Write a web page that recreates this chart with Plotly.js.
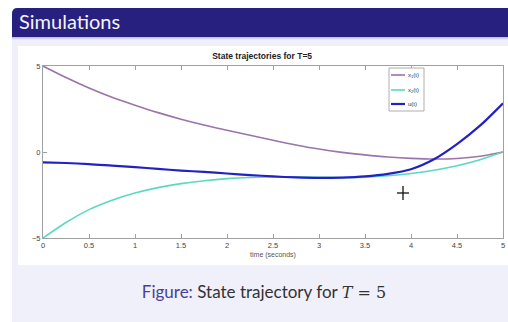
<!DOCTYPE html>
<html><head><meta charset="utf-8">
<script src="https://cdn.plot.ly/plotly-3.0.1.min.js"></script>
<style>
html,body{margin:0;padding:0;background:#fff;width:508px;height:322px;overflow:hidden;position:relative;font-family:Lato,"Open Sans",sans-serif}
#block{position:absolute;left:12px;top:40px;width:496px;height:282px;background:#eff0f9}
#head{position:absolute;left:12px;top:8px;width:496px;height:29px;background:#27207f;border-top-left-radius:5px}
#head span{position:absolute;left:7px;top:1px;color:#f4f4fb;font-size:20px;font-family:Lato,sans-serif;font-weight:400}
#sep{position:absolute;left:12px;top:37px;width:496px;height:3px;background:linear-gradient(#b9b6dc,#eff0f9)}
#fig{position:absolute;left:18px;top:46px;width:490px;height:219px;background:#fff}
#cap{position:absolute;left:0;width:528px;top:281px;text-align:center;font-size:17px;color:#333;font-family:Lato,sans-serif}
#cap .f{color:#4a3f9e}
#cap .m{font-family:"DejaVu Serif","Liberation Serif",serif;font-size:16px}
#plot{position:absolute;left:0;top:0;width:508px;height:322px}
</style></head>
<body>
<div id="block"></div><div id="head"><span>Simulations</span></div><div id="sep"></div>
<div id="fig"></div>
<div id="cap"><span class="f">Figure:</span> State trajectory for <span class="m"><i>T</i> = 5</span></div>
<div id="plot"></div>
<script>
const t  = [0,0.25,0.5,0.75,1,1.25,1.5,1.75,2,2.25,2.5,2.75,3,3.25,3.5,3.75,4,4.25,4.5,4.75,5];
const x1 = [5.0,4.33,3.72,3.18,2.72,2.29,1.91,1.57,1.26,0.97,0.68,0.41,0.17,-0.02,-0.17,-0.29,-0.37,-0.41,-0.38,-0.25,0.0];
const x2 = [-5.0,-4.1,-3.35,-2.8,-2.38,-2.07,-1.84,-1.67,-1.55,-1.48,-1.45,-1.45,-1.47,-1.48,-1.46,-1.38,-1.25,-1.06,-0.8,-0.45,0.0];
const u  = [-0.60,-0.64,-0.70,-0.79,-0.88,-0.98,-1.08,-1.16,-1.25,-1.34,-1.42,-1.48,-1.51,-1.49,-1.42,-1.27,-1.0,-0.42,0.46,1.53,2.83];
const names = ['x<sub>1</sub>(t)','x<sub>2</sub>(t)','u(t)'];
const colors = ['#9a74aa','#5cd8c2','#2222c4'];
const widths = [1.6,1.6,2.2];
const xTicks = [0,0.5,1,1.5,2,2.5,3,3.5,4,4.5,5];
const xTickText = ['0','0.5','1','1.5','2','2.5','3','3.5','4','4.5','5'];
const yTicks = [-5,0,5];

const series = [x1,x2,u];
const data = series.map((ys,i)=>({x:t,y:ys,type:'scatter',mode:'lines',line:{color:colors[i],width:widths[i],shape:'spline',smoothing:0.8},name:names[i],showlegend:false}));

const W=460,H=172;
const px=v=>v/W, py=v=>v/H;
const lgX0=px(389-43), lgX1=px(424-43), lgY0=1-py(68-66), lgY1=1-py(111-66);
const shapes=[{type:'rect',xref:'paper',yref:'paper',x0:lgX0,x1:lgX1,y0:lgY1,y1:lgY0,line:{color:'#9a9a9a',width:0.8},fillcolor:'#fff'}];
const annotations=[];
const rowY=[75,90,104];
rowY.forEach((yy,i)=>{
  const yp=1-py(yy-66);
  shapes.push({type:'line',xref:'paper',yref:'paper',x0:px(391-43),x1:px(405-43),y0:yp,y1:yp,line:{color:colors[i],width:widths[i]}});
  annotations.push({xref:'paper',yref:'paper',x:px(406-43),y:yp,text:names[i],showarrow:false,xanchor:'left',yanchor:'middle',font:{size:6,color:'#333',family:'Liberation Sans, Arial, sans-serif'}});
});
const cx=px(403-43), cy=1-py(193-66);
shapes.push({type:'line',xref:'paper',yref:'paper',x0:cx-px(6),x1:cx+px(6),y0:cy,y1:cy,line:{color:'#111',width:1.3}});
shapes.push({type:'line',xref:'paper',yref:'paper',x0:cx,x1:cx,y0:cy-py(7),y1:cy+py(7),line:{color:'#111',width:1.3}});

const axisCommon={showgrid:false,zeroline:false,showline:true,linecolor:'#a0a0a0',linewidth:1,mirror:'ticks',ticks:'inside',ticklen:4,tickcolor:'#a0a0a0',tickfont:{size:7.5,color:'#444',family:'Liberation Sans, Arial, sans-serif'}};
const layout={
  width:508,height:322,
  margin:{l:43,r:5,t:66,b:84},
  paper_bgcolor:'rgba(0,0,0,0)',plot_bgcolor:'#fff',
  title:{text:'<b>State trajectories for T=5</b>',font:{size:8.5,color:'#222',family:'Liberation Sans, Arial, sans-serif'},x:0.516,xanchor:'center',yref:'container',y:1-56/322,yanchor:'middle'},
  xaxis:Object.assign({},axisCommon,{range:[0,5],tickvals:xTicks,ticktext:xTickText,title:{text:'time (seconds)',font:{size:7,color:'#555',family:'Liberation Sans, Arial, sans-serif'},standoff:3}}),
  yaxis:Object.assign({},axisCommon,{range:[-5,5],tickvals:yTicks}),
  shapes:shapes,annotations:annotations,showlegend:false
};
Plotly.newPlot('plot',data,layout,{staticPlot:true});
</script>
</body></html>
